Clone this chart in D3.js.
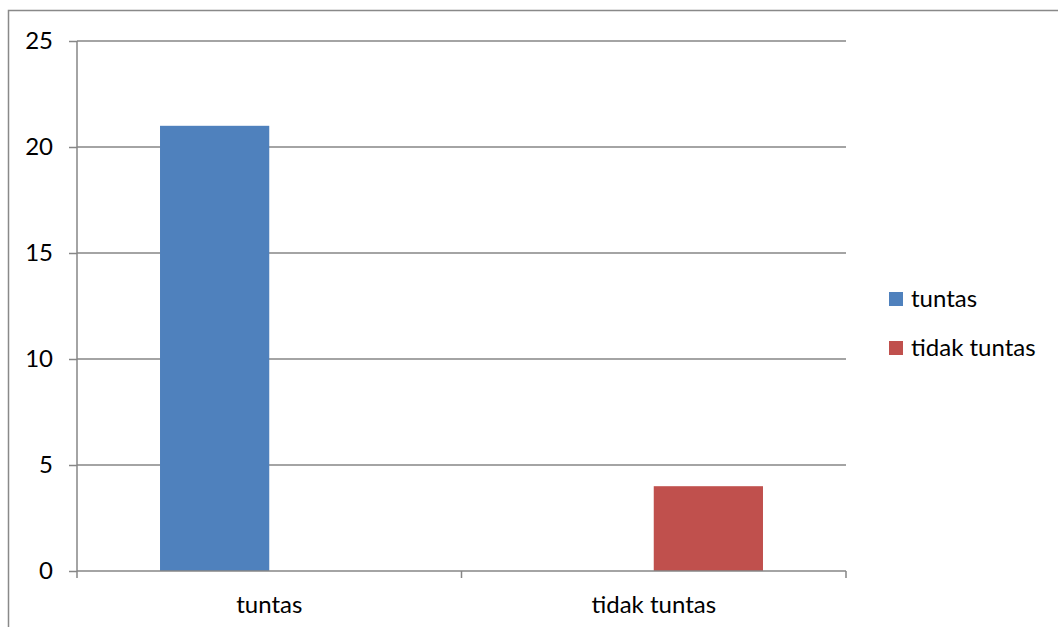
<!DOCTYPE html>
<html>
<head>
<meta charset="utf-8">
<script src="https://cdn.jsdelivr.net/npm/d3@7"></script>
<style>
  body { margin: 0; background: #fff; }
  text { font-family: Lato, "Open Sans", sans-serif; fill: #000; }
</style>
</head>
<body>
<svg id="chart"></svg>
<script>
// data
const categories = ['tuntas', 'tidak tuntas'];
const seriesNames = ['tuntas', 'tidak tuntas'];
const seriesColors = ['#4F81BD', '#C0504D'];
// value of each series in each category (null = no bar)
const tuntasValues = [21, null];
const tidakTuntasValues = [null, 4];
const yTicks = [0, 5, 10, 15, 20, 25];

const width = 1058, height = 627;
const margin = {top: 41, right: 212, bottom: 56, left: 77};
const fontSize = '24px';

const svg = d3.select('#chart')
      .attr('width', width)
      .attr('height', height);

// outer chart border
svg.append('rect')
      .attr('x', 8.5).attr('y', 10.5)
      .attr('width', width + 10).attr('height', height + 10)
      .attr('fill', 'none')
      .attr('stroke', '#898989')
      .attr('stroke-width', 1.5);

const innerW = width - margin.left - margin.right;
const innerH = height - margin.top - margin.bottom;

const chart = svg.append('g')
      .attr('transform', `translate(${margin.left}, ${margin.top})`);

const x0 = d3.scaleBand()
      .domain(categories)
      .range([0, innerW])
      .padding(0);

const x1 = d3.scaleBand()
      .domain(seriesNames)
      .range([0, x0.bandwidth()])
      .paddingInner(0)
      .paddingOuter(0.76);

const yscale = d3.scaleLinear()
      .domain([0, 25])
      .range([innerH, 0]);

const color = d3.scaleOrdinal().domain(seriesNames).range(seriesColors);

// gridlines
chart.selectAll('.grid')
      .data(yTicks.filter(d => d > 0))
      .enter()
      .append('line')
      .attr('x1', 0).attr('x2', innerW)
      .attr('y1', d => yscale(d)).attr('y2', d => yscale(d))
      .attr('stroke', '#868686')
      .attr('stroke-width', 1.3);

// bars
const rows = categories.map((c, i) => ({
      cat: c,
      values: [
            {s: seriesNames[0], v: tuntasValues[i]},
            {s: seriesNames[1], v: tidakTuntasValues[i]}
      ].filter(d => d.v != null)
}));

chart.selectAll('.cat')
      .data(rows)
      .enter()
      .append('g')
      .attr('transform', d => `translate(${x0(d.cat)}, 0)`)
      .selectAll('rect')
      .data(d => d.values)
      .enter()
      .append('rect')
      .attr('x', d => x1(d.s))
      .attr('width', x1.bandwidth())
      .attr('y', d => yscale(d.v))
      .attr('height', d => innerH - yscale(d.v))
      .attr('fill', d => color(d.s));

// y axis
const yaxis = d3.axisLeft(yscale)
      .tickValues(yTicks)
      .tickSize(8)
      .tickPadding(16);

const yg = chart.append('g').call(yaxis);
yg.selectAll('path, line').attr('stroke', '#868686').attr('stroke-width', 1.5);
yg.select('.domain').attr('d', `M0,${innerH}V0`);
yg.selectAll('text').style('font-size', fontSize).attr('font-family', null).attr('fill', '#000');

// x axis with ticks at category boundaries
const xg = chart.append('g')
      .attr('transform', `translate(0, ${innerH})`)
      .call(d3.axisBottom(x0).tickSize(0).tickPadding(25));
xg.select('.domain').attr('stroke', '#868686').attr('stroke-width', 1.5).attr('d', `M0,0H${innerW}`);
xg.selectAll('text').style('font-size', fontSize).attr('font-family', null).attr('fill', '#000');

xg.selectAll('.bound')
      .data([0].concat(categories.map(c => x0(c) + x0.bandwidth())))
      .enter()
      .append('line')
      .attr('x1', d => d).attr('x2', d => d)
      .attr('y1', 0).attr('y2', 7)
      .attr('stroke', '#868686')
      .attr('stroke-width', 1.5);

// legend
const legend = svg.append('g')
      .attr('transform', 'translate(889, 299)');

const item = legend.selectAll('g')
      .data(seriesNames)
      .enter()
      .append('g')
      .attr('transform', (d, i) => `translate(0, ${i * 49})`);

item.append('rect')
      .attr('x', 0).attr('y', -7)
      .attr('width', 14).attr('height', 14)
      .attr('fill', d => color(d));

item.append('text')
      .attr('x', 22)
      .attr('dy', '0.35em')
      .style('font-size', fontSize)
      .text(d => d);
</script>
</body>
</html>
